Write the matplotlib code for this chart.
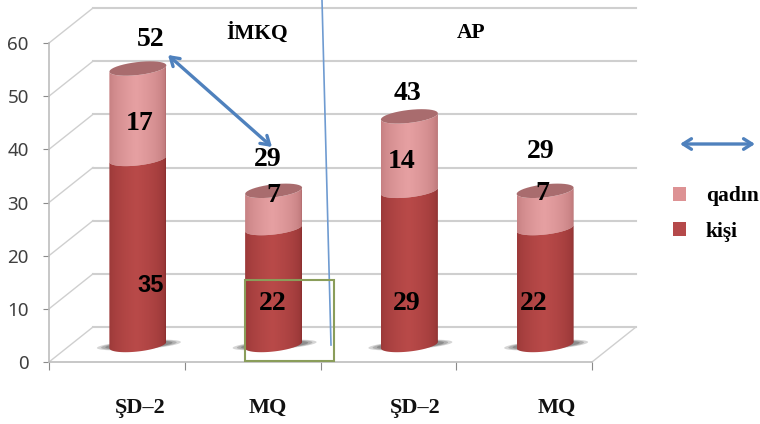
import numpy as np
import matplotlib
matplotlib.use('Agg')
import matplotlib.pyplot as plt
from matplotlib.colors import to_rgb
from matplotlib.patches import PathPatch, Patch, Rectangle
from matplotlib.path import Path

# data
categories = ["ŞD–2", "MQ", "ŞD–2", "MQ"]
kisi = [35, 22, 29, 22]
qadin = [17, 7, 14, 7]
totals = [52, 29, 43, 29]
y_ticks = [0, 10, 20, 30, 40, 50, 60]
group_names = ["İMKQ", "AP"]

# layout, everything measured in reference pixels
W, H = 760, 424
LEFT, RIGHT, BASE, TOP = 49, 592, 362, 43
DEPTH_X, DEPTH_Y = 44, 35
PX_X = (RIGHT - LEFT) / 4.0
PX_Y = (BASE - TOP) / 60.0
RX, RY, TILT = 28.5, 6.5, 0.11

SERIF = "Liberation Serif"
SANS = "Liberation Sans"
GRID = "#cfcfcf"
BLUE = "#4f81bd"


def fx(x):
    return x / W


def fy(y):
    return 1 - y / H


def gradient(edge, mid):
    edge, mid = np.array(to_rgb(edge)), np.array(to_rgb(mid))
    t = np.linspace(0, 1, 64)
    w = np.clip(1 - np.abs(t - 0.48) / 0.52, 0, 1) ** 0.4
    return (edge + (mid - edge) * w[:, None])[None, :, :]


def arc(cx, y, start, stop):
    t = np.linspace(start, stop, 40)
    xs = cx + RX / PX_X * np.cos(t)
    ys = y + (RY * np.sin(t) + TILT * RX * np.cos(t)) / PX_Y
    return np.column_stack([xs, ys])


def cylinder_part(ax, cx, y0, y1, edge, mid, z):
    pts = np.vstack([arc(cx, y0, np.pi, 2 * np.pi), arc(cx, y1, 2 * np.pi, np.pi)])
    patch = PathPatch(Path(np.vstack([pts, pts[0]]), closed=True), fc="none", ec="none", zorder=z)
    ax.add_patch(patch)
    im = ax.imshow(gradient(edge, mid), extent=[cx - RX / PX_X, cx + RX / PX_X, y0 - 5, y1 + 5],
                   aspect="auto", zorder=z, interpolation="bilinear")
    im.set_clip_path(patch)


fig = plt.figure(figsize=(W / 100, H / 100), dpi=100)
ax = fig.add_axes([fx(LEFT), fy(BASE), (RIGHT - LEFT) / W, (BASE - TOP) / H])
ax.patch.set_alpha(0)

# walls of the fake 3d box
dx, dy = DEPTH_X / PX_X, DEPTH_Y / PX_Y
for v in y_ticks:
    ax.plot([-0.5 + dx, 3.5 + dx], [v + dy, v + dy], color=GRID, lw=1.5, clip_on=False, zorder=1)
    ax.plot([-0.5, -0.5 + dx], [v, v + dy], color=GRID, lw=1.0, clip_on=False, zorder=1)
ax.plot([3.5, 3.5 + dx], [0, dy], color=GRID, lw=1.0, clip_on=False, zorder=1)

# cylinders
off_x, off_y = 21 / PX_X, 17 / PX_Y
for i in range(len(categories)):
    cx = i + off_x
    for w, a in [(1.0, 0.25), (0.9, 0.3), (0.8, 0.4)]:
        t = np.linspace(0, 2 * np.pi, 60)
        sx = cx + 1 / PX_X + 42 * w / PX_X * np.cos(t)
        sy = off_y + (4.5 * w * np.sin(t) + 0.07 * 42 * np.cos(t) * w) / PX_Y
        ax.fill(sx, sy, fc="#5a5a5a", ec="none", alpha=a, zorder=2)
    top = off_y + totals[i]
    mid = off_y + kisi[i]
    cylinder_part(ax, cx, mid, top, "#b56f71", "#e6a0a2", 3)
    cylinder_part(ax, cx, off_y, mid, "#8c3030", "#b94a49", 4)
    lid = arc(cx, top, 0, 2 * np.pi)
    ax.add_patch(PathPatch(Path(lid, closed=False), fc="#a96c6e", ec="none", zorder=5))

ax.set_xlim(-0.5, 3.5)
ax.set_ylim(0, 60)

# axes and ticks
for side in ["top", "right"]:
    ax.spines[side].set_visible(False)
for side in ["left", "bottom"]:
    ax.spines[side].set_color("#bdbdbd")
    ax.spines[side].set_linewidth(1.2)
ax.set_yticks(y_ticks)
ax.set_yticklabels([str(v) for v in y_ticks], fontsize=13.5, family="Noto Sans", color="#3f3f3f")
ax.tick_params(axis="y", length=4.5, color="#8a8a8a", pad=10)
ax.set_xticks([-0.5, 0.5, 1.5, 2.5, 3.5])
ax.set_xticklabels([])
ax.tick_params(axis="x", length=5.5, color="#8a8a8a")

# category labels
label_x = [140, 268, 415, 557]
for name, x in zip(categories, label_x):
    fig.text(fx(x), fy(408), name, family=SERIF, weight="bold", fontsize=16,
             color="#111111", ha="center", va="center")

# value labels
part_pos = [(140, 123), (273, 195), (402, 161), (542, 194)]
for v, (x, y) in zip(qadin, part_pos):
    fig.text(fx(x), fy(y), str(v), family=SERIF, weight="bold", fontsize=20, ha="center", va="center", zorder=10)
male_pos = [(273, 303), (407, 304), (534, 304)]
fig.text(fx(151), fy(285), str(kisi[0]), family=SANS, weight="bold", fontsize=17, ha="center", va="center", zorder=10)
for v, (x, y) in zip(kisi[1:], male_pos):
    fig.text(fx(x), fy(y), str(v), family=SERIF, weight="bold", fontsize=20, ha="center", va="center", zorder=10)
total_pos = [(151, 40), (268, 160), (407, 93), (541, 151)]
for v, (x, y) in zip(totals, total_pos):
    fig.text(fx(x), fy(y), str(v), family=SERIF, weight="bold", fontsize=20, ha="center", va="center", zorder=10)

fig.text(fx(257), fy(33), group_names[0], family=SERIF, weight="bold", fontsize=15.5, ha="center", va="center")
fig.text(fx(471), fy(33), group_names[1], family=SERIF, weight="bold", fontsize=15.5, ha="center", va="center")

# drawn-on shapes
for start, end in [((168, 55), (272, 147)), ((680, 144), (755, 144))]:
    ax.annotate("", xy=(fx(end[0]), fy(end[1])), xytext=(fx(start[0]), fy(start[1])),
                xycoords="figure fraction", textcoords="figure fraction", annotation_clip=False,
                arrowprops=dict(arrowstyle="<->,head_length=0.6,head_width=0.38", color=BLUE, lw=2.4,
                                shrinkA=0, shrinkB=0), zorder=9)
fig.add_artist(plt.Line2D([fx(322), fx(331)], [fy(0), fy(345)], color="#6f9bd1", lw=1.2, zorder=8))
fig.add_artist(Rectangle((fx(245), fy(361)), 89 / W, 81 / H, transform=fig.transFigure,
                         fc="none", ec="#8a9d5a", lw=1.5, zorder=8))

# legend
handles = [Patch(fc="#dd9294", ec="none"), Patch(fc="#b5494a", ec="none")]
fig.legend(handles, ["qadın", "kişi"], loc="center left", bbox_to_anchor=(fx(673), fy(214)),
           frameon=False, prop={"family": SERIF, "weight": "bold", "size": 15.5},
           handlelength=0.62, handleheight=0.62, handletextpad=0.9, labelspacing=0.72, borderpad=0, borderaxespad=0)

fig.savefig("out.png", dpi=100)
